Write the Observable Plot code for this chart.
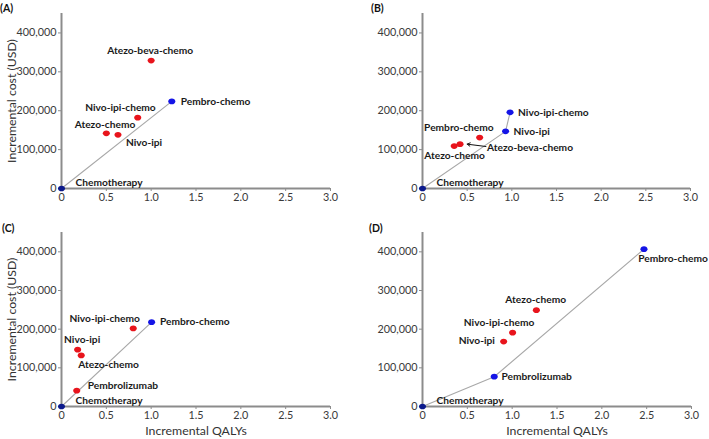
<!DOCTYPE html>
<html>
<head>
<meta charset="utf-8">
<script src="https://cdn.jsdelivr.net/npm/d3@7"></script>
<script src="https://cdn.jsdelivr.net/npm/@observablehq/plot@0.6"></script>
<style>
  body { margin: 0; background: #fff; }
  #wrap { position: relative; width: 709px; height: 439px; font-family: Lato, "Open Sans", sans-serif; }
  .panel { position: absolute; }
  .tag { position: absolute; font: bold 10.5px Lato, sans-serif; color: #111; }
</style>
</head>
<body>
<div id="wrap"></div>
<script>
// ---------- data ----------
const xTicks = [0, 0.5, 1.0, 1.5, 2.0, 2.5, 3.0];
const yTicks = [0, 100000, 200000, 300000, 400000];

// Panel A
const aNames = ["Chemotherapy", "Atezo-chemo", "Nivo-ipi", "Nivo-ipi-chemo", "Atezo-beva-chemo", "Pembro-chemo"];
const aQaly  = [0, 0.50, 0.63, 0.85, 1.00, 1.23];
const aCost  = [0, 142000, 138000, 182000, 329000, 224000];
const aFrontier = ["Chemotherapy", "Pembro-chemo"];

// Panel B
const bNames = ["Chemotherapy", "Atezo-chemo", "Atezo-beva-chemo", "Pembro-chemo", "Nivo-ipi", "Nivo-ipi-chemo"];
const bQaly  = [0, 0.355, 0.42, 0.64, 0.93, 0.98];
const bCost  = [0, 109000, 114000, 131000, 147000, 196000];
const bFrontier = ["Chemotherapy", "Nivo-ipi", "Nivo-ipi-chemo"];
// arrow from label to point (data units)
const bArrowFrom = [0.71, 108000];
const bArrowTo   = [0.50, 114000];

// Panel C
const cNames = ["Chemotherapy", "Pembrolizumab", "Nivo-ipi", "Atezo-chemo", "Nivo-ipi-chemo", "Pembro-chemo"];
const cQaly  = [0, 0.17, 0.18, 0.22, 0.80, 1.005];
const cCost  = [0, 41000, 147000, 132000, 202000, 218000];
const cFrontier = ["Chemotherapy", "Pembro-chemo"];

// Panel D
const dNames = ["Chemotherapy", "Pembrolizumab", "Nivo-ipi", "Nivo-ipi-chemo", "Atezo-chemo", "Pembro-chemo"];
const dQaly  = [0, 0.80, 0.905, 1.005, 1.27, 2.47];
const dCost  = [0, 77000, 168000, 191000, 249000, 407000];
const dFrontier = ["Chemotherapy", "Pembrolizumab", "Pembro-chemo"];

// ---------- label placement (pixels) ----------
const placeA = {
  "Chemotherapy":     [14, -5.5, "start"],
  "Atezo-chemo":      [29, -8.5, "end"],
  "Nivo-ipi":         [8, 7.8, "start"],
  "Nivo-ipi-chemo":   [18, -9.5, "end"],
  "Atezo-beva-chemo": [-1, -9.5, "middle"],
  "Pembro-chemo":     [9, 0, "start"]
};
const placeB = {
  "Chemotherapy":     [14, -5.5, "start"],
  "Atezo-chemo":      [-30, 9.7, "start"],
  "Atezo-beva-chemo": [27, 3.3, "start"],
  "Pembro-chemo":     [14, -10, "end"],
  "Nivo-ipi":         [8, 0, "start"],
  "Nivo-ipi-chemo":   [8, 0, "start"]
};
const placeC = {
  "Chemotherapy":     [14, -5.7, "start"],
  "Pembrolizumab":    [11, -5.3, "start"],
  "Nivo-ipi":         [4.5, -10.3, "middle"],
  "Atezo-chemo":      [-3, 9.7, "start"],
  "Nivo-ipi-chemo":   [6.7, -9.7, "end"],
  "Pembro-chemo":     [8.3, 0, "start"]
};
const placeD = {
  "Chemotherapy":     [14, -5.7, "start"],
  "Pembrolizumab":    [7.3, 0, "start"],
  "Nivo-ipi":         [-8.7, -1.3, "end"],
  "Nivo-ipi-chemo":   [21.7, -9.7, "end"],
  "Atezo-chemo":      [-0.7, -10, "middle"],
  "Pembro-chemo":     [-5.7, 9.3, "start"]
};

// ---------- helpers ----------
const ellipse = {
  draw(ctx, size) {
    const r = Math.sqrt(size / Math.PI);
    const rx = r * 1.15, ry = r * 0.92, kx = rx * 0.5523, ky = ry * 0.5523;
    ctx.moveTo(rx, 0);
    ctx.bezierCurveTo(rx, ky, kx, ry, 0, ry);
    ctx.bezierCurveTo(-kx, ry, -rx, ky, -rx, 0);
    ctx.bezierCurveTo(-rx, -ky, -kx, -ry, 0, -ry);
    ctx.bezierCurveTo(kx, -ry, rx, -ky, rx, 0);
    ctx.closePath();
  }
};

function panel(opts) {
  const {names, qaly, cost, frontier, place, showX, showY, arrow,
         left, top, width, height, mL, mR, mT, mB} = opts;
  const rows = names.map((n, i) => ({name: n, x: qaly[i], y: cost[i],
    frontier: frontier.includes(n), origin: i === 0}));
  const line = frontier.map(n => rows.find(r => r.name === n));
  const marks = [
    Plot.axisX({ticks: xTicks, tickFormat: d => d === 0 ? "0" : d3.format(".1f")(d),
      tickSize: 3, tickPadding: 2, stroke: "#8c8c8c", fill: "#3a3a3a",
      fontSize: 10.8, label: null}),
    Plot.axisY({ticks: yTicks, tickFormat: d3.format(","),
      tickSize: 3, tickPadding: 2, stroke: "#8c8c8c", fill: "#3a3a3a",
      fontSize: 10.8, label: null}),
    Plot.ruleY([0], {stroke: "#8c8c8c", strokeWidth: 2}),
    Plot.ruleX([0], {stroke: "#8c8c8c", strokeWidth: 2}),
    Plot.line(line, {x: "x", y: "y", stroke: "#a8a8a8", strokeWidth: 1.1}),
    Plot.dot(rows, {x: "x", y: "y", r: 3.1, symbol: ellipse, stroke: null,
      fill: d => d.origin ? "#0c1a8c" : d.frontier ? "#1414e6" : "#e8141c"}),
  ];
  if (showX) {
    marks.push(Plot.axisX({ticks: [], label: "Incremental QALYs", labelAnchor: "center",
      labelArrow: "none", labelOffset: 28, fontSize: 12.3, fill: "#333", tickSize: 0}));
  }
  if (showY) {
    marks.push(Plot.axisY({ticks: [], label: "Incremental cost (USD)", labelAnchor: "center",
      labelArrow: "none", labelOffset: 54, fontSize: 12.3, fill: "#333", tickSize: 0}));
  }
  if (arrow) {
    marks.push(Plot.arrow([{x1: arrow[0][0], y1: arrow[0][1], x2: arrow[1][0], y2: arrow[1][1]}],
      {x1: "x1", y1: "y1", x2: "x2", y2: "y2", stroke: "#111", strokeWidth: 1, headLength: 5}));
  }
  for (const r of rows) {
    const [dx, dy, anchor] = place[r.name];
    marks.push(Plot.text([r], {x: "x", y: "y", text: "name", dx, dy, textAnchor: anchor,
      fontWeight: "bold", fontSize: 10.2, fill: "#1a1a1a"}));
  }
  const svg = Plot.plot({
    width, height, marginLeft: mL, marginRight: mR, marginTop: mT, marginBottom: mB,
    style: {fontFamily: "Lato, sans-serif", fontSize: "10.5px", background: "transparent", overflow: "visible"},
    x: {domain: [0, 3]},
    y: {domain: [0, 450000]},
    marks
  });
  svg.classList.add("panel");
  svg.style.left = left + "px";
  svg.style.top = top + "px";
  return svg;
}

const wrap = document.getElementById("wrap");
wrap.appendChild(panel({names: aNames, qaly: aQaly, cost: aCost, frontier: aFrontier, place: placeA,
  showX: false, showY: true, left: 0, top: 0, width: 354, height: 220, mL: 61, mR: 24, mT: 13, mB: 32}));
wrap.appendChild(panel({names: bNames, qaly: bQaly, cost: bCost, frontier: bFrontier, place: placeB,
  showX: false, showY: false, arrow: [bArrowFrom, bArrowTo],
  left: 354, top: 0, width: 355, height: 220, mL: 68, mR: 19, mT: 13, mB: 32}));
wrap.appendChild(panel({names: cNames, qaly: cQaly, cost: cCost, frontier: cFrontier, place: placeC,
  showX: true, showY: true, left: 0, top: 220, width: 354, height: 219, mL: 61, mR: 24, mT: 12, mB: 33}));
wrap.appendChild(panel({names: dNames, qaly: dQaly, cost: dCost, frontier: dFrontier, place: placeD,
  showX: true, showY: false, left: 354, top: 220, width: 355, height: 219, mL: 68, mR: 18, mT: 12, mB: 33}));

const tags = [["(A)", 0, 2], ["(B)", 371, 2], ["(C)", 2, 222], ["(D)", 369, 222]];
for (const [t, x, y] of tags) {
  const d = document.createElement("div");
  d.className = "tag"; d.textContent = t;
  d.style.left = x + "px"; d.style.top = y + "px";
  wrap.appendChild(d);
}
</script>
</body>
</html>
